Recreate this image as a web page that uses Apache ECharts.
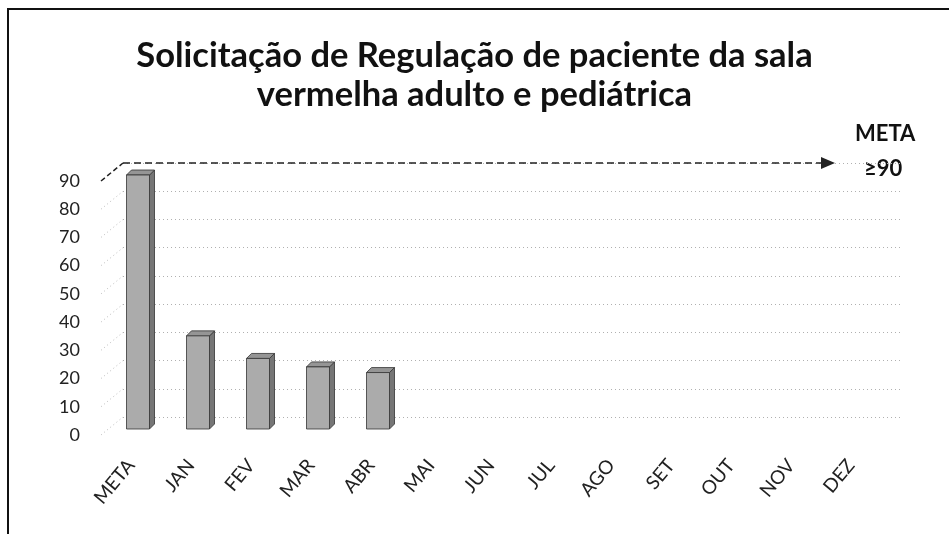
<!DOCTYPE html>
<html>
<head>
<meta charset="utf-8">
<script src="https://cdn.jsdelivr.net/npm/echarts@6/dist/echarts.min.js"></script>
<style>
html,body{margin:0;padding:0;background:#fff;}
#chart{width:949px;height:534px;}
</style>
</head>
<body>
<div id="chart"></div>
<script>
var categories = ['META','JAN','FEV','MAR','ABR','MAI','JUN','JUL','AGO','SET','OUT','NOV','DEZ'];
var values = [90, 33, 25, 22, 20, null, null, null, null, null, null, null, null];
var yTicks = [0,10,20,30,40,50,60,70,80,90];
var targetValue = 90;
var titleLines = ['Solicitação de Regulação de paciente da sala', 'vermelha adulto e pediátrica'];
var targetLabel = ['META', '≥90'];

var barData = [];
values.forEach(function(v, i){ if (v !== null) barData.push([i, v]); });

var chart = echarts.init(document.getElementById('chart'));
var FONT = 'Lato';

var option = {
  animation: false,
  backgroundColor: '#fff',
  title: {
    text: titleLines.join('\n'),
    left: 'center',
    top: 31,
    padding: [5, 0, 5, 20],
    textStyle: {fontFamily: FONT, fontWeight: 'bold', fontSize: 34.5, color: '#111', lineHeight: 39}
  },
  grid: [
    {left: 101, width: 780, top: 181, height: 254},
    {left: 108, width: 780, top: 175, height: 254},
    {left: 123, width: 780, top: 163, height: 254}
  ],
  xAxis: [
    {type: 'category', gridIndex: 0, data: categories,
     axisLine: {show: false}, axisTick: {show: false},
     axisLabel: {rotate: 50, margin: 27, fontFamily: FONT, fontSize: 19, color: '#222'}},
    {type: 'category', gridIndex: 1, data: categories, show: false},
    {type: 'value', gridIndex: 2, min: -0.5, max: 12.5, show: false}
  ],
  yAxis: [
    {type: 'value', gridIndex: 0, min: 0, max: 90, interval: 10,
     axisLine: {show: false}, axisTick: {show: false}, splitLine: {show: false},
     axisLabel: {margin: 21, fontFamily: FONT, fontSize: 18, color: '#222'}},
    {type: 'value', gridIndex: 1, min: 0, max: 90, interval: 10, show: false},
    {type: 'value', gridIndex: 2, min: 0, max: 90, interval: 10,
     axisLine: {show: false}, axisTick: {show: false}, axisLabel: {show: false},
     splitLine: {show: true, lineStyle: {color: '#b0b0b0', type: [1, 3], width: 1}}}
  ],
  series: [
    {
      type: 'custom', xAxisIndex: 2, yAxisIndex: 2, silent: true,
      data: yTicks.map(function(t){ return [-0.5, t]; }),
      renderItem: function(params, api){
        var v = api.value(1);
        var p = api.coord([-0.5, v]);
        var isTarget = v === targetValue;
        return {
          type: 'line',
          shape: {x1: p[0] - 22, y1: p[1] + 18, x2: p[0], y2: p[1]},
          style: isTarget ? {stroke: '#222', lineWidth: 1.5, lineDash: [5, 3]}
                          : {stroke: '#bcbcbc', lineWidth: 1, lineDash: [1, 3]}
        };
      },
      markLine: {
        silent: true,
        symbol: ['none', 'triangle'],
        symbolSize: [12, 14],
        label: {show: false},
        lineStyle: {color: '#222', type: [7, 4], width: 1.5},
        data: [[{coord: [-0.5, targetValue]}, {coord: [11.25, targetValue]}]]
      }
    },
    {
      type: 'custom', xAxisIndex: 1, yAxisIndex: 1, silent: true,
      data: barData,
      renderItem: function(params, api){
        var idx = api.value(0), v = api.value(1);
        var p0 = api.coord([idx, 0]);
        var p1 = api.coord([idx, v]);
        var w = 23, d = 5;
        var x1 = p0[0] - w / 2, x2 = p0[0] + w / 2;
        var yb = p0[1], yt = p1[1];
        return {
          type: 'group',
          children: [
            {type: 'polygon', shape: {points: [[x2, yt], [x2 + d, yt - d], [x2 + d, yb - d], [x2, yb]]},
             style: {fill: '#767676', stroke: '#333', lineWidth: 0.8}},
            {type: 'polygon', shape: {points: [[x1, yt], [x1 + d, yt - d], [x2 + d, yt - d], [x2, yt]]},
             style: {fill: '#959595', stroke: '#333', lineWidth: 0.8}},
            {type: 'rect', shape: {x: x1, y: yt, width: w, height: yb - yt},
             style: {fill: '#ababab', stroke: '#333', lineWidth: 0.8}}
          ]
        };
      }
    }
  ],
  graphic: [
    {type: 'polyline', silent: true, shape: {points: [[8, 534], [8, 9], [949, 9]]},
     style: {stroke: '#111', lineWidth: 2, fill: null}},
    {type: 'text', left: 887 - 32, top: 123, silent: true,
     style: {text: targetLabel[0], font: 'bold 22px Lato', fill: '#111'}},
    {type: 'text', left: 887 - 23, top: 158, silent: true,
     style: {text: targetLabel[1], font: 'bold 22px Lato', fill: '#111'}}
  ]
};
chart.setOption(option);
</script>
</body>
</html>
